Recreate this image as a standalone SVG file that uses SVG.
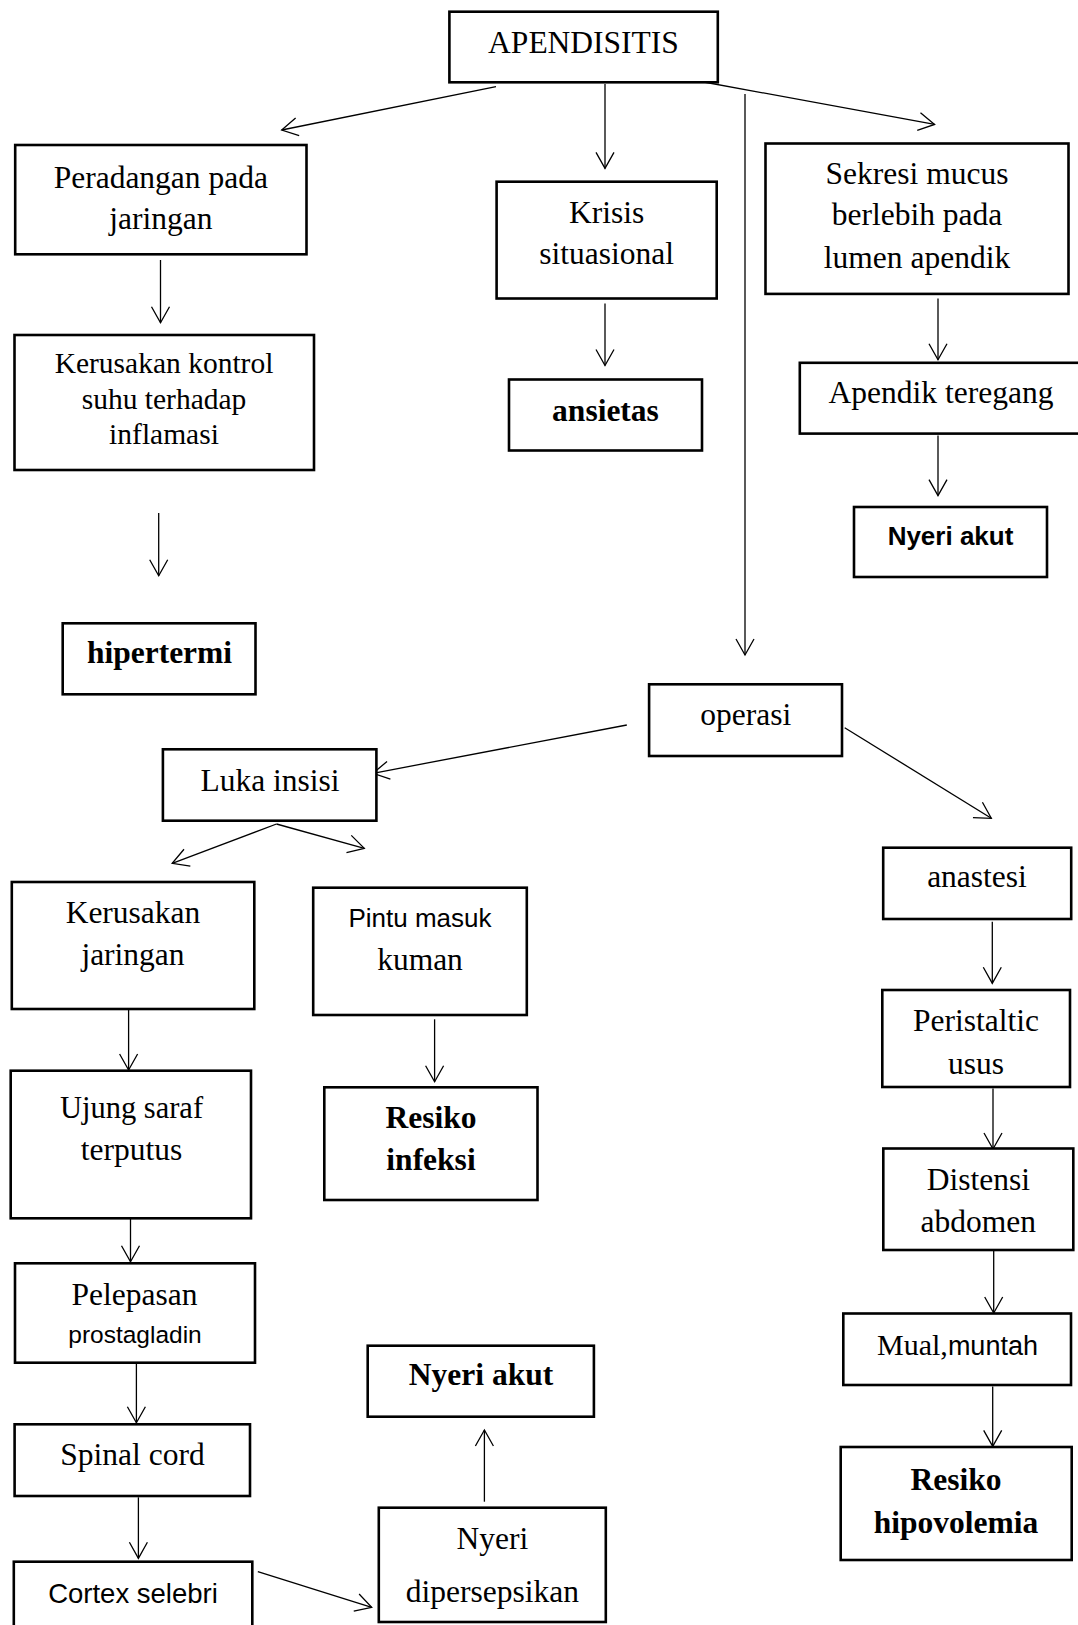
<svg xmlns="http://www.w3.org/2000/svg" width="1078" height="1625" viewBox="0 0 1078 1625">
<defs>
<marker id="arr" markerUnits="userSpaceOnUse" viewBox="-18 -11 20 22" refX="0" refY="0" markerWidth="20" markerHeight="22" orient="auto">
<path d="M-16,-9 L0,0 L-16,9" fill="none" stroke="#000" stroke-width="1.3"/>
</marker>
<style>
rect{fill:#fff;stroke:#000;stroke-width:2.6}
.c line{stroke:#000;stroke-width:1.3;marker-end:url(#arr)}
text{font-family:"Liberation Serif","Times New Roman",serif;font-size:31.5px;text-anchor:middle;fill:#000}
.b{font-weight:bold}
.s{font-family:"Liberation Sans",Arial,sans-serif}
</style>
</defs>
<rect x="0" y="0" width="1078" height="1625" style="fill:#fff;stroke:none"/>
<g class="c" id="connectors">
<line x1="496" y1="86.7" x2="281.7" y2="130"/>
<line x1="605" y1="84" x2="605" y2="168.4"/>
<line x1="745" y1="94" x2="745" y2="655"/>
<line x1="701" y1="81.5" x2="934.6" y2="124.4"/>
<line x1="160.5" y1="260" x2="160.5" y2="322.7"/>
<line x1="158.7" y1="513" x2="158.7" y2="575.7"/>
<line x1="605" y1="303.5" x2="605" y2="365.5"/>
<line x1="938" y1="298.5" x2="938" y2="359.7"/>
<line x1="938" y1="435.5" x2="938" y2="495.6"/>
<line x1="626.8" y1="725" x2="373" y2="773.3"/>
<line x1="844.7" y1="727.7" x2="991.3" y2="818.3"/>
<line x1="276.5" y1="824" x2="172.2" y2="863.3"/>
<line x1="276.5" y1="824" x2="364.3" y2="848.3"/>
<line x1="128.6" y1="1010" x2="128.6" y2="1070"/>
<line x1="130.5" y1="1200" x2="130.5" y2="1261.7"/>
<line x1="136.4" y1="1362.7" x2="136.4" y2="1422.7"/>
<line x1="138.4" y1="1497.3" x2="138.4" y2="1558.3"/>
<line x1="257.8" y1="1571.7" x2="371.7" y2="1607.3"/>
<line x1="484.4" y1="1501.7" x2="484.4" y2="1430"/>
<line x1="434.6" y1="1019.3" x2="434.6" y2="1081.7"/>
<line x1="992.3" y1="921.7" x2="992.3" y2="983.3"/>
<line x1="993" y1="1088.5" x2="993" y2="1149"/>
<line x1="993.7" y1="1251" x2="993.7" y2="1313"/>
<line x1="992.7" y1="1386.6" x2="992.7" y2="1446.4"/>
</g>
<g id="apendisitis"><rect x="449.4" y="11.7" width="268.4" height="70.6"/><text x="583.5" y="53.3">APENDISITIS</text></g>
<g id="peradangan"><rect x="15.2" y="145" width="291.3" height="109.3"/><text x="160.8" y="187.7">Peradangan pada</text><text x="160.8" y="229.3">jaringan</text></g>
<g id="kerusakan-kontrol"><rect x="14.5" y="335" width="299.5" height="135"/><text x="164" y="373.3" style="font-size:29.5px">Kerusakan kontrol</text><text x="164" y="409.3" style="font-size:29.5px">suhu terhadap</text><text x="164" y="444.3" style="font-size:29.5px">inflamasi</text></g>
<g id="hipertermi"><rect x="62.7" y="623.3" width="192.8" height="71"/><text class="b" x="159.5" y="663">hipertermi</text></g>
<g id="krisis"><rect x="496.6" y="181.7" width="220.1" height="116.8"/><text x="606.6" y="222.7">Krisis</text><text x="606.6" y="264">situasional</text></g>
<g id="ansietas"><rect x="509" y="379.5" width="193" height="71"/><text class="b" x="605.5" y="421">ansietas</text></g>
<g id="sekresi"><rect x="765.5" y="143.5" width="303" height="150.4"/><text x="917" y="183.7">Sekresi mucus</text><text x="917" y="224.6">berlebih pada</text><text x="917" y="267.9">lumen apendik</text></g>
<g id="apendik-teregang"><rect x="799.8" y="362.8" width="290" height="70.8"/><text x="941" y="403.3">Apendik teregang</text></g>
<g id="nyeri-akut-1"><rect x="854" y="507" width="193" height="70"/><text class="b s" x="950.5" y="545.3" style="font-size:26px">Nyeri akut</text></g>
<g id="operasi"><rect x="649.1" y="684.3" width="192.9" height="71.7"/><text x="745.7" y="725">operasi</text></g>
<g id="luka-insisi"><rect x="162.9" y="749.3" width="213.5" height="71.4"/><text x="270" y="790.7">Luka insisi</text></g>
<g id="anastesi"><rect x="883.2" y="847.7" width="188" height="71.3"/><text x="977" y="887.3">anastesi</text></g>
<g id="kerusakan-jaringan"><rect x="11.8" y="882" width="242.5" height="127"/><text x="133" y="922.7">Kerusakan</text><text x="133" y="965">jaringan</text></g>
<g id="pintu-masuk"><rect x="313.2" y="887.7" width="213.6" height="127.3"/><text class="s" x="420" y="926.7" style="font-size:26px">Pintu masuk</text><text x="420" y="970">kuman</text></g>
<g id="resiko-infeksi"><rect x="324.3" y="1087.3" width="213.2" height="112.7"/><text class="b" x="431" y="1128.3">Resiko</text><text class="b" x="431" y="1170">infeksi</text></g>
<g id="ujung-saraf"><rect x="10.7" y="1070.7" width="240.3" height="147.6"/><text x="131.5" y="1117.7" style="font-size:30.5px">Ujung saraf</text><text x="131.5" y="1160">terputus</text></g>
<g id="pelepasan"><rect x="15" y="1263.3" width="240" height="99.4"/><text x="134.5" y="1305">Pelepasan</text><text class="s" x="135" y="1342.7" style="font-size:24.5px">prostagladin</text></g>
<g id="spinal-cord"><rect x="14.6" y="1424.3" width="235.4" height="71.7"/><text x="132.5" y="1465">Spinal cord</text></g>
<g id="cortex-selebri"><rect x="13.8" y="1561.7" width="238.5" height="70"/><text class="s" x="133" y="1603" style="font-size:27.5px">Cortex selebri</text></g>
<g id="nyeri-dipersepsikan"><rect x="378.8" y="1507.7" width="227" height="114.3"/><text x="492.3" y="1549">Nyeri</text><text x="492.3" y="1601.7">dipersepsikan</text></g>
<g id="nyeri-akut-2"><rect x="367.7" y="1345.7" width="226.2" height="71"/><text class="b" x="481" y="1385">Nyeri akut</text></g>
<g id="peristaltic"><rect x="882.3" y="990" width="187.7" height="97"/><text x="976" y="1031">Peristaltic</text><text x="976" y="1074">usus</text></g>
<g id="distensi"><rect x="883.3" y="1148.5" width="190" height="101.5"/><text x="978.3" y="1189.5">Distensi</text><text x="978.3" y="1232">abdomen</text></g>
<g id="mual-muntah"><rect x="843.3" y="1313.5" width="227.7" height="71.5"/><text x="957.5" y="1355"><tspan style="font-size:30px">Mual,</tspan><tspan class="s" style="font-size:27px">muntah</tspan></text></g>
<g id="resiko-hipovolemia"><rect x="840.7" y="1447" width="231" height="113"/><text class="b" x="956" y="1490">Resiko</text><text class="b" x="956" y="1533">hipovolemia</text></g>
</svg>
